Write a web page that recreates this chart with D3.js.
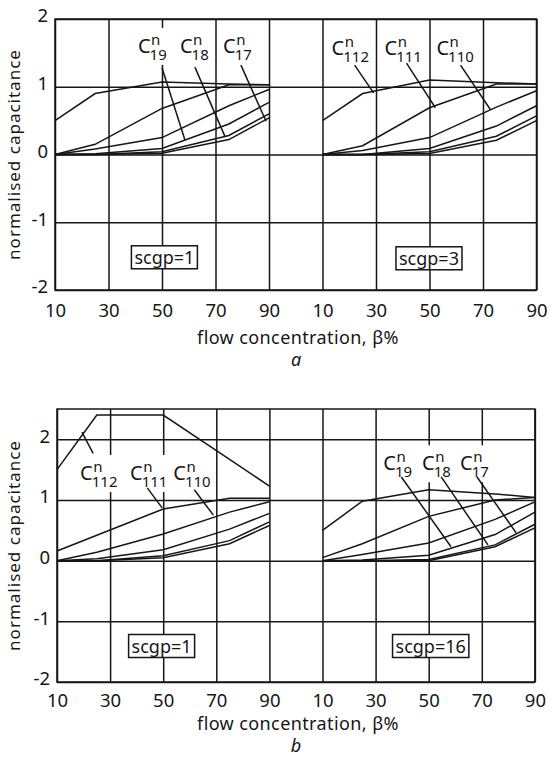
<!DOCTYPE html>
<html>
<head>
<meta charset="utf-8">
<script src="https://cdnjs.cloudflare.com/ajax/libs/d3/7.8.5/d3.min.js"></script>
<style>
body{margin:0;background:#fff;}
svg text{font-family:"Noto Sans",sans-serif;fill:#161616;}
.grade line,.moldura,.curva,.guia{stroke:#161616;stroke-width:1.5;fill:none;}
</style>
</head>
<body>
<div id="grafico"></div>
<script>
// eixos
var beta = [10, 25, 50, 75, 90];
var xTicks = [10, 30, 50, 70, 90];
var yTicksA = [-2, -1, 0, 1, 2];
var yTicksB = [-2, -1, 0, 1, 2];
var yDomA = [-2, 2];
var yDomB = [-2, 2.5];

// curvas (capacitancia normalizada) - figura a
var a1 = [
  [0.5, 0.9, 1.07, 1.04, 1.03],
  [0, 0.15, 0.68, 1.03, 1.03],
  [0, 0.08, 0.25, 0.72, 0.96],
  [0, 0.01, 0.09, 0.45, 0.77],
  [0, 0, 0.04, 0.28, 0.6],
  [0, 0, 0.02, 0.22, 0.54]
];
var a3 = [
  [0.5, 0.9, 1.1, 1.06, 1.04],
  [0, 0.13, 0.69, 1.04, 1.04],
  [0, 0.06, 0.25, 0.7, 0.94],
  [0, 0, 0.09, 0.42, 0.72],
  [0, 0, 0.04, 0.27, 0.57],
  [0, 0, 0.015, 0.21, 0.5]
];
// figura b
var b1 = [
  [1.5, 2.4, 2.4, 1.67, 1.23],
  [0.16, 0.42, 0.85, 1.03, 1.03],
  [0, 0.14, 0.44, 0.8, 0.97],
  [0, 0.03, 0.18, 0.52, 0.78],
  [0, 0, 0.08, 0.33, 0.64],
  [0, 0, 0.05, 0.28, 0.58]
];
var b16 = [
  [0.5, 0.98, 1.17, 1.1, 1.04],
  [0.05, 0.28, 0.73, 1.0, 1.04],
  [0, 0.1, 0.29, 0.68, 0.97],
  [0, 0.01, 0.09, 0.43, 0.8],
  [0, 0, 0.02, 0.26, 0.6],
  [0, 0, 0, 0.23, 0.54]
];

// rotulos C^n e linhas guia (em coordenadas dos dados)
var nomesA1 = ["19", "18", "17"];
var posA1 = [[41, 1.5], [56.7, 1.5], [72.8, 1.5]];
var guiaA1 = [[50, 1.28, 58.6, 0.21], [62.3, 1.29, 73.6, 0.26], [79.5, 1.32, 88.9, 0.49]];
var nomesA3 = ["112", "111", "110"];
var posA3 = [[13.4, 1.47], [33.2, 1.47], [52.6, 1.47]];
var guiaA3 = [[22, 1.32, 29.1, 0.91], [41.4, 1.35, 52.2, 0.69], [61.6, 1.32, 72.8, 0.66]];
var nomesB1 = ["112", "111", "110"];
var posB1 = [[18.7, 1.33], [37.5, 1.33], [53.8, 1.33]];
var guiaB1 = [[19.4, 2.12, 23.6, 1.77], [44, 1.2, 49.6, 0.87], [61.7, 1.17, 68.9, 0.75]];
var nomesB16 = ["19", "18", "17"];
var posB16 = [[32.9, 1.49], [47.5, 1.49], [61.8, 1.49]];
var guiaB16 = [[39.7, 1.38, 58.4, 0.23], [54.7, 1.38, 72.3, 0.26], [68.2, 1.38, 82.9, 0.46]];

var caixas = [["scgp=1", 50.9, -1.52], ["scgp=3", 49.8, -1.535], ["scgp=1", 49.4, -1.41], ["scgp=16", 50.75, -1.41]];

var figuras = [
  {top: 19, bottom: 290, left: 55, cell: 53.5, yDom: yDomA, yTicks: yTicksA, pad: 14, titulo: 344, letra: "a", letraY: 366,
   paineis: [{dados: a1, nomes: nomesA1, pos: posA1, guias: guiaA1, caixa: caixas[0]},
             {dados: a3, nomes: nomesA3, pos: posA3, guias: guiaA3, caixa: caixas[1]}]},
  {top: 409, bottom: 682, left: 57, cell: 53.1, yDom: yDomB, yTicks: yTicksB, pad: 12, titulo: 730, letra: "b", letraY: 752,
   paineis: [{dados: b1, nomes: nomesB1, pos: posB1, guias: guiaB1, caixa: caixas[2]},
             {dados: b16, nomes: nomesB16, pos: posB16, guias: guiaB16, caixa: caixas[3]}]}
];

var svg = d3.select("#grafico").append("svg").attr("width", 551).attr("height", 770);

figuras.forEach(function(f){
  var g = svg.append("g");
  var right = f.left + 9 * f.cell;
  var y = d3.scaleLinear().domain(f.yDom).range([f.bottom, f.top]);
  var xs = [
    d3.scaleLinear().domain([10, 90]).range([f.left, f.left + 4 * f.cell]),
    d3.scaleLinear().domain([10, 90]).range([f.left + 5 * f.cell, right])
  ];
  // grade horizontal + rotulos do eixo y
  var gy = g.append("g").attr("class", "grade").attr("transform", "translate(" + f.left + ",0)")
    .call(d3.axisLeft(y).tickValues(f.yTicks).tickSize(-(right - f.left)).tickPadding(7)
      .tickFormat(function(d){ return d < 0 ? "-" + Math.abs(d) : d; }));
  gy.select(".domain").remove();
  gy.selectAll("text").attr("font-size", 18.5).attr("dy", "0.15em");
  // grade vertical + rotulos do eixo x
  xs.forEach(function(x){
    var gx = g.append("g").attr("class", "grade").attr("transform", "translate(0," + f.bottom + ")")
      .call(d3.axisBottom(x).tickValues(xTicks).tickSize(-(f.bottom - f.top)).tickPadding(f.pad));
    gx.select(".domain").remove();
    gx.selectAll("text").attr("font-size", 18.5);
  });
  g.append("rect").attr("class", "moldura").attr("x", f.left).attr("y", f.top)
    .attr("width", right - f.left).attr("height", f.bottom - f.top);

  f.paineis.forEach(function(p, k){
    var x = xs[k];
    // rotulos C^n com fundo branco
    p.nomes.forEach(function(nome, i){
      var px = x(p.pos[i][0]), py = y(p.pos[i][1]);
      var lg = g.append("g");
      var t = lg.append("text").attr("x", px).attr("y", py).attr("font-size", 20);
      t.append("tspan").text("C");
      var n = t.append("tspan").attr("font-size", 15).attr("dx", 0.5).attr("dy", -8).text("n");
      var wn = n.node().getComputedTextLength();
      t.append("tspan").attr("font-size", 15).attr("dx", -wn - 1.5).attr("dy", 15).text(nome);
      var bb = t.node().getBBox();
      lg.insert("rect", "text").attr("x", bb.x - 2).attr("y", bb.y - 1)
        .attr("width", bb.width + 4).attr("height", bb.height + 2).attr("fill", "#fff");
    });
    var linha = d3.line().x(function(d, i){ return x(beta[i]); }).y(function(d){ return y(d); });
    g.selectAll(null).data(p.dados).enter().append("path").attr("class", "curva").attr("d", linha);
    g.selectAll(null).data(p.guias).enter().append("line").attr("class", "guia")
      .attr("x1", function(d){ return x(d[0]); }).attr("y1", function(d){ return y(d[1]); })
      .attr("x2", function(d){ return x(d[2]); }).attr("y2", function(d){ return y(d[3]); });
    // caixa scgp
    var cg = g.append("g");
    var ct = cg.append("text").attr("x", x(p.caixa[1])).attr("y", y(p.caixa[2])).attr("dy", "0.35em")
      .attr("text-anchor", "middle").attr("font-size", 18).text(p.caixa[0]);
    var cb = ct.node().getBBox();
    cg.insert("rect", "text").attr("x", cb.x - 3).attr("y", cb.y + 1).attr("width", cb.width + 6)
      .attr("height", cb.height - 1).attr("fill", "#fff").attr("stroke", "#161616").attr("stroke-width", 1.5);
  });

  // titulos
  svg.append("text").attr("transform", "translate(19.5," + ((f.top + f.bottom) / 2) + ") rotate(-90)")
    .attr("text-anchor", "middle").attr("font-size", 17).attr("letter-spacing", 1).text("normalised capacitance");
  svg.append("text").attr("x", 298).attr("y", f.titulo).attr("text-anchor", "middle")
    .attr("font-size", 18).attr("letter-spacing", 0.4).text("flow concentration, β%");
  svg.append("text").attr("x", 296).attr("y", f.letraY).attr("text-anchor", "middle")
    .attr("font-size", 18).attr("font-style", "italic").text(f.letra);
});
</script>
</body>
</html>
